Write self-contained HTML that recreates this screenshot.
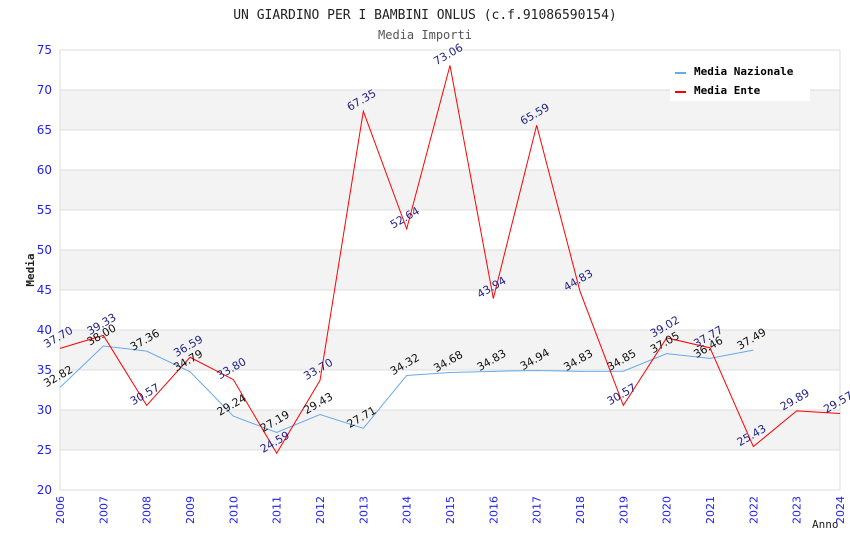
<!DOCTYPE html>
<html><head><meta charset="utf-8"><style>
body{margin:0;background:#fff}
svg{display:block}
</style></head><body>
<svg id="chart" width="850" height="550" xmlns="http://www.w3.org/2000/svg">
<text x="425" y="19" text-anchor="middle" font-family="DejaVu Sans Mono, monospace" font-size="13" fill="#222">UN GIARDINO PER I BAMBINI ONLUS (c.f.91086590154)</text>
<text x="425" y="39" text-anchor="middle" font-family="DejaVu Sans Mono, monospace" font-size="12" fill="#555">Media Importi</text>
<g id="grid"></g>
<g id="series"></g>
<g id="labels"></g>
<text transform="translate(34,270) rotate(-90)" text-anchor="middle" font-family="DejaVu Sans Mono, monospace" font-size="11" font-weight="bold" fill="#222">Media</text>
<text x="812" y="528" font-family="DejaVu Sans Mono, monospace" font-size="11" fill="#222">Anno</text>
<g>
<rect x="670" y="55" width="140" height="46" fill="#fff"/>
<line x1="675" y1="73" x2="686" y2="73" stroke="#66aaee" stroke-width="2"/>
<text x="694" y="75" font-family="DejaVu Sans Mono, monospace" font-size="11" font-weight="bold" fill="#000">Media Nazionale</text>
<line x1="675" y1="92" x2="686" y2="92" stroke="#ff0000" stroke-width="2"/>
<text x="694" y="94" font-family="DejaVu Sans Mono, monospace" font-size="11" font-weight="bold" fill="#000">Media Ente</text>
</g>
</svg>
<script>
const years=[2006,2007,2008,2009,2010,2011,2012,2013,2014,2015,2016,2017,2018,2019,2020,2021,2022,2023,2024];
const nazionale=[32.82,38.00,37.36,34.79,29.24,27.19,29.43,27.71,34.32,34.68,34.83,34.94,34.83,34.85,37.05,36.46,37.49];
const ente=[37.70,39.33,30.57,36.59,33.80,24.59,33.70,67.35,52.64,73.06,43.94,65.59,44.83,30.57,39.02,37.77,25.43,29.89,29.57];
const yTicks=[20,25,30,35,40,45,50,55,60,65,70,75];
const NS="http://www.w3.org/2000/svg";
const L=60,R=840,T=50,B=490,yMin=20,yMax=75;
const xs=i=>L+(R-L)*i/(years.length-1);
const ys=v=>B-(v-yMin)/(yMax-yMin)*(B-T);
function mk(tag,attrs,parent){const e=document.createElementNS(NS,tag);for(const k in attrs)e.setAttribute(k,attrs[k]);parent.appendChild(e);return e;}
const grid=document.getElementById('grid');
for(let i=0;i<yTicks.length-1;i++){
  if(i%2===1){const r=mk('rect',{x:L,y:ys(yTicks[i+1]),width:R-L,height:ys(yTicks[i])-ys(yTicks[i+1]),fill:'#f3f3f3'},grid);
  
  }
}
yTicks.forEach(t=>{
  const l=mk('line',{x1:L,x2:R,y1:ys(t),y2:ys(t),stroke:'#dddddd'},grid);
  
  
  const tx=mk('text',{x:L-8,y:ys(t)+4,'text-anchor':'end','font-family':'DejaVu Sans, sans-serif','font-size':'12',fill:'#2222ee'},grid);
  tx.textContent=t;
  
  
});
mk('line',{x1:L,x2:L,y1:T,y2:B,stroke:'#dddddd'},grid);
mk('line',{x1:R,x2:R,y1:T,y2:B,stroke:'#dddddd'},grid);
years.forEach((y,i)=>{
  const tx=mk('text',{transform:`translate(${xs(i)+4},${B+6}) rotate(-90)`,'text-anchor':'end','font-family':'DejaVu Sans, sans-serif','font-size':'11',fill:'#2222ee'},grid);
  tx.textContent=y;
  
  
});
const ser=document.getElementById('series');
function line(vals,color,name){
  const p=mk('polyline',{points:vals.map((v,i)=>xs(i)+','+ys(v)).join(' '),fill:'none',stroke:color,'stroke-width':1},ser);
  
  
}
line(nazionale,'#66aaee','series-nazionale');
line(ente,'#ff0000','series-ente');
const lab=document.getElementById('labels');
function labels(vals,color,name){
  vals.forEach((v,i)=>{
    const t=mk('text',{transform:`translate(${xs(i)},${ys(v)-8}) rotate(-30)`,'text-anchor':'middle','font-family':'DejaVu Sans, sans-serif','font-size':'11',fill:color},lab);
    t.textContent=v.toFixed(2);
    
    
  });
}
labels(nazionale,'#111111','value-label-nazionale');
labels(ente,'#222288','value-label-ente');
</script>
</body></html>
